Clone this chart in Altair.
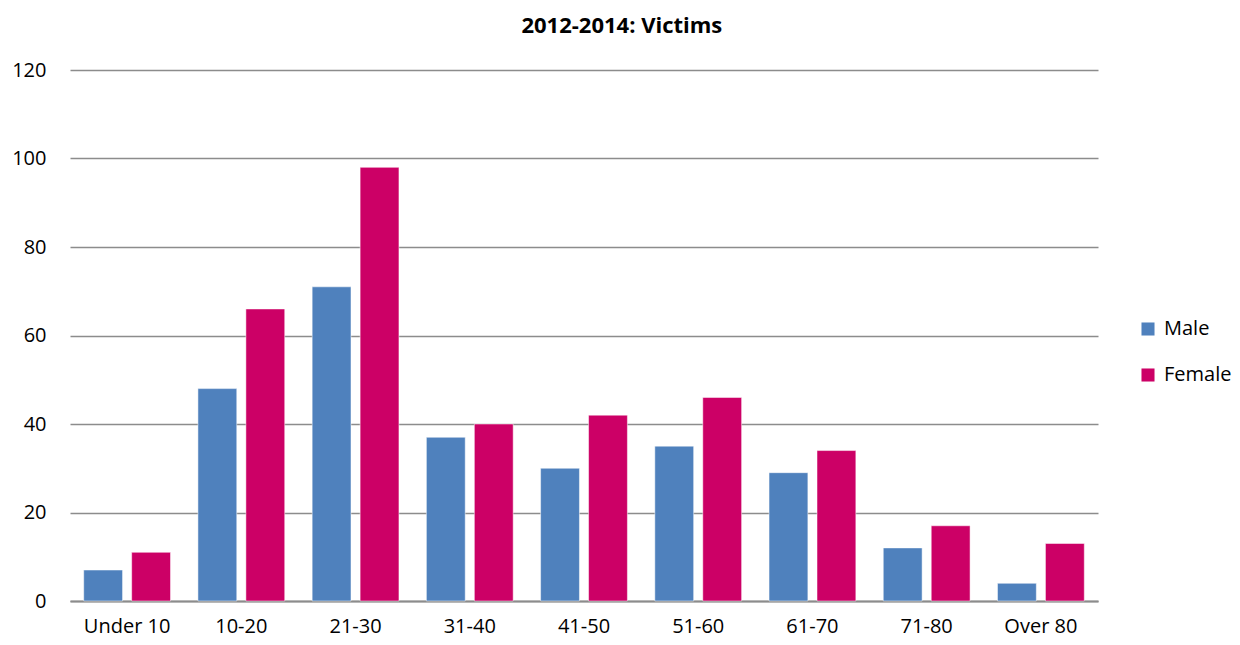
import altair as alt
import pandas as pd

categories = ["Under 10", "10-20", "21-30", "31-40", "41-50", "51-60", "61-70", "71-80", "Over 80"]
male = [7, 48, 71, 37, 30, 35, 29, 12, 4]
female = [11, 66, 98, 40, 42, 46, 34, 17, 13]
series = ["Male", "Female"]
colors = ["#4F81BD", "#CC0066"]

rows = []
for c, m, f in zip(categories, male, female):
    rows.append({"age": c, "sex": "Male", "victims": m})
    rows.append({"age": c, "sex": "Female", "victims": f})
df = pd.DataFrame(rows)

FONT = "Open Sans"

chart = alt.Chart(df).mark_bar(stroke="white", strokeWidth=0.5).encode(
    x=alt.X("age:N", sort=categories, title=None,
            scale=alt.Scale(paddingInner=0.24, paddingOuter=0.12),
            axis=alt.Axis(labelAngle=0, labelFontSize=20, labelFont=FONT, labelColor="#000000",
                          ticks=False, domain=True, domainColor="#8c8c8c", domainWidth=2,
                          labelPadding=15, grid=False)),
    xOffset=alt.XOffset("sex:N", sort=series, scale=alt.Scale(paddingInner=0.19)),
    y=alt.Y("victims:Q", title=None,
            scale=alt.Scale(domain=[0, 120]),
            axis=alt.Axis(values=[0, 20, 40, 60, 80, 100, 120], labelFontSize=20, labelFont=FONT,
                          labelColor="#000000", ticks=False, domain=False, labelPadding=24,
                          gridColor="#8c8c8c", gridWidth=1.5)),
    color=alt.Color("sex:N", sort=series, title=None,
                    scale=alt.Scale(domain=series, range=colors),
                    legend=alt.Legend(orient="none", legendX=1068, legendY=249,
                                      symbolType="square", symbolSize=170, symbolStrokeWidth=0,
                                      labelFontSize=20, labelFont=FONT, labelColor="#000000",
                                      rowPadding=26, labelOffset=6)),
).properties(
    width=1028,
    height=531,
    padding={"left": 62, "top": 62, "right": 134, "bottom": 36},
    autosize=alt.AutoSizeParams(type="none"),
    title=alt.TitleParams("2012-2014: Victims", fontSize=22, font=FONT, fontWeight="bold",
                          color="#000000", anchor="middle", frame="bounds", offset=22),
).configure_view(stroke=None)

chart.save("out.html", embed_options={"renderer": "svg", "actions": False})
